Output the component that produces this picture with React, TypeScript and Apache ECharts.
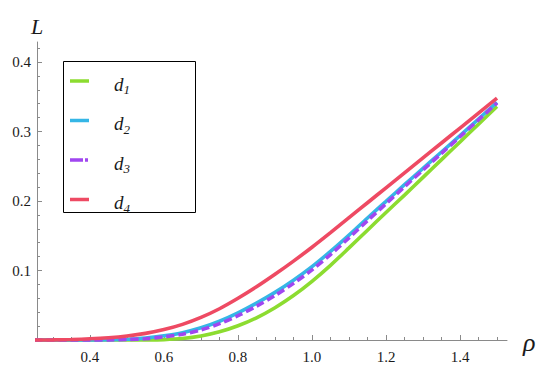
import React, { useEffect, useRef } from "react";
import * as echarts from "echarts";

const rho = [0.25, 0.3, 0.35, 0.4, 0.45, 0.5, 0.55, 0.6, 0.65, 0.7, 0.75, 0.8, 0.85, 0.9, 0.95, 1.0, 1.05, 1.1, 1.15, 1.2, 1.25, 1.3, 1.35, 1.4, 1.45, 1.5];
const d1 = [0, 0, 0, 0, 0, 0, 0.0001, 0.0006, 0.0022, 0.0058, 0.0118, 0.0205, 0.032, 0.0465, 0.064, 0.0845, 0.1075, 0.1325, 0.158, 0.1835, 0.2085, 0.234, 0.2595, 0.285, 0.3105, 0.336];
const d2 = [0, 0, 0, 0, 0.0003, 0.001, 0.0027, 0.006, 0.0105, 0.0175, 0.027, 0.039, 0.053, 0.0685, 0.086, 0.1055, 0.1275, 0.151, 0.1755, 0.1995, 0.2235, 0.247, 0.2705, 0.294, 0.318, 0.342];
const d3 = [0, 0, 0, 0, 0.0002, 0.0007, 0.0018, 0.0045, 0.0083, 0.0145, 0.0235, 0.035, 0.0487, 0.064, 0.0815, 0.101, 0.123, 0.147, 0.1717, 0.196, 0.2205, 0.2445, 0.2685, 0.2925, 0.3168, 0.341];
const d4 = [0, 0.0002, 0.0007, 0.0017, 0.0033, 0.0058, 0.0095, 0.015, 0.0225, 0.0325, 0.045, 0.06, 0.0765, 0.0945, 0.1135, 0.1335, 0.1545, 0.176, 0.1975, 0.219, 0.2405, 0.262, 0.2835, 0.305, 0.3265, 0.348];

const seriesNames = ["d1", "d2", "d3", "d4"];
const seriesSubs = ["1", "2", "3", "4"];
const seriesColors = ["#8CDC30", "#35B6E6", "#A046F0", "#EE4A63"];
const seriesData = [d1, d2, d3, d4];

const xMajorTicks = [0.4, 0.6, 0.8, 1.0, 1.2, 1.4];
const xMinorTicks = [0.3, 0.35, 0.45, 0.5, 0.55, 0.65, 0.7, 0.75, 0.85, 0.9, 0.95, 1.05, 1.1, 1.15, 1.25, 1.3, 1.35, 1.45, 1.5];
const yMajorTicks = [0.1, 0.2, 0.3, 0.4];
const yMinorTicks = [0.02, 0.04, 0.06, 0.08, 0.12, 0.14, 0.16, 0.18, 0.22, 0.24, 0.26, 0.28, 0.32, 0.34, 0.36, 0.38, 0.42];

const X_MIN = 0.2568;
const X_MAX = 1.527;
const Y_MIN = 0;
const Y_MAX = 0.4288;

const FONT = "Liberation Serif";
const AXIS_COLOR = "#8a8a8a";
const TEXT_COLOR = "#1a1a1a";

export default function App() {
  const ref = useRef<HTMLDivElement>(null);

  useEffect(() => {
    if (!ref.current) return;
    const chart = echarts.init(ref.current, undefined, { renderer: "svg" });

    const option: any = {
      animation: false,
      backgroundColor: "#fff",
      grid: { left: 37, right: 43, top: 42, bottom: 30 },
      xAxis: [
        {
          type: "value",
          min: X_MIN,
          max: X_MAX,
          axisLine: { show: true, onZero: false, lineStyle: { color: AXIS_COLOR, width: 1 } },
          axisTick: { show: true, inside: true, length: 5, customValues: xMajorTicks, lineStyle: { color: AXIS_COLOR } },
          axisLabel: { show: false },
          splitLine: { show: false },
        },
        {
          type: "value",
          min: X_MIN,
          max: X_MAX,
          position: "bottom",
          axisLine: { show: false, onZero: false },
          axisTick: { show: true, inside: true, length: 3, customValues: xMinorTicks, lineStyle: { color: AXIS_COLOR } },
          axisLabel: { show: false },
          splitLine: { show: false },
        },
      ],
      yAxis: [
        {
          type: "value",
          min: Y_MIN,
          max: Y_MAX,
          axisLine: { show: true, onZero: false, lineStyle: { color: AXIS_COLOR, width: 1 } },
          axisTick: { show: true, inside: true, length: 5, customValues: yMajorTicks, lineStyle: { color: AXIS_COLOR } },
          axisLabel: { show: false },
          splitLine: { show: false },
        },
        {
          type: "value",
          min: Y_MIN,
          max: Y_MAX,
          position: "left",
          axisLine: { show: false, onZero: false },
          axisTick: { show: true, inside: true, length: 3, customValues: yMinorTicks, lineStyle: { color: AXIS_COLOR } },
          axisLabel: { show: false },
          splitLine: { show: false },
        },
      ],
      series: seriesNames.map((name, i) => ({
        name,
        type: "line",
        xAxisIndex: 0,
        yAxisIndex: 0,
        showSymbol: false,
        symbol: "none",
        smooth: 0.3,
        clip: false,
        data: rho.map((r, j) => [r, seriesData[i][j]]),
        lineStyle: {
          color: seriesColors[i],
          width: 3.6,
          type: i === 2 ? [8, 4] : "solid",
          cap: "butt",
        },
        z: 3 + i,
      })),
    };

    chart.setOption(option);

    const toPx = (x: number, y: number) => chart.convertToPixel({ gridIndex: 0 }, [x, y]) as number[];

    const graphics: any[] = [];

    // tick labels placed via the axes' own scales
    xMajorTicks.forEach((v) => {
      const [px, py] = toPx(v, Y_MIN);
      graphics.push({
        type: "text",
        x: px,
        y: py + 17,
        style: { text: v.toFixed(1), fontFamily: FONT, fontSize: 15, fill: TEXT_COLOR, align: "center", verticalAlign: "middle" },
      });
    });
    yMajorTicks.forEach((v) => {
      const [px, py] = toPx(X_MIN, v);
      graphics.push({
        type: "text",
        x: px - 6,
        y: py,
        style: { text: v.toFixed(1), fontFamily: FONT, fontSize: 15, fill: TEXT_COLOR, align: "right", verticalAlign: "middle" },
      });
    });

    // axis names
    const [yTopX, yTopY] = toPx(X_MIN, Y_MAX);
    graphics.push({
      type: "text",
      x: yTopX,
      y: yTopY - 16,
      style: { text: "L", fontFamily: FONT, fontStyle: "italic", fontSize: 22, fill: TEXT_COLOR, align: "center", verticalAlign: "middle" },
    });
    const [xEndX, xEndY] = toPx(X_MAX, Y_MIN);
    graphics.push({
      type: "text",
      x: xEndX + 16,
      y: xEndY + 2,
      style: { text: "ρ", fontFamily: FONT, fontStyle: "italic", fontSize: 26, fill: TEXT_COLOR, align: "left", verticalAlign: "middle" },
    });

    // legend
    graphics.push({
      type: "rect",
      shape: { x: 63.5, y: 61.5, width: 132, height: 151 },
      style: { fill: "#fff", stroke: "#000", lineWidth: 1 },
      z: 100,
    });
    const legendRows = [81, 120.5, 160, 199.5];
    seriesNames.forEach((name, i) => {
      const cy = legendRows[i];
      graphics.push({
        type: "line",
        shape: { x1: 70, y1: cy, x2: 89, y2: cy },
        style: {
          stroke: seriesColors[i],
          lineWidth: 3.5,
          lineDash: i === 2 ? [13, 2, 3, 2] : null,
        },
        z: 101,
      });
      graphics.push({
        type: "text",
        x: 114,
        y: cy + 3,
        style: {
          text: `{d|d}{s|${seriesSubs[i]}}`,
          fontFamily: FONT,
          fontStyle: "italic",
          fontSize: 19,
          fill: TEXT_COLOR,
          verticalAlign: "middle",
          rich: {
            d: { fontFamily: FONT, fontStyle: "italic", fontSize: 19, lineHeight: 24, verticalAlign: "middle", fill: TEXT_COLOR },
            s: { fontFamily: FONT, fontStyle: "italic", fontSize: 13, lineHeight: 12, verticalAlign: "bottom", fill: TEXT_COLOR },
          },
        },
        z: 101,
      });
    });

    chart.setOption({ graphic: graphics });
    return () => chart.dispose();
  }, []);

  return (
    <div
      ref={ref}
      style={{ position: "absolute", left: 0, top: 0, width: 550, height: 370 }}
    />
  );
}
